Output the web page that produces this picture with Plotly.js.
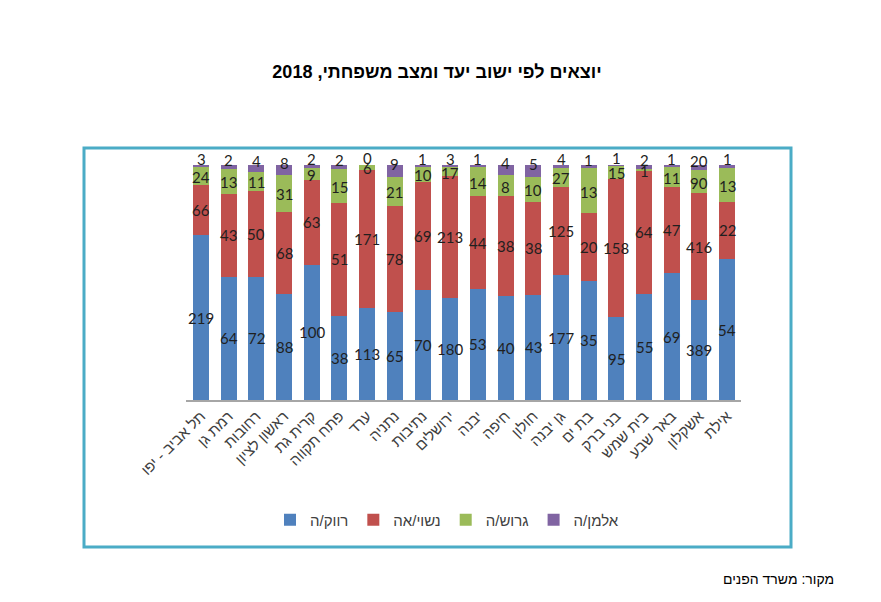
<!DOCTYPE html>
<html>
<head>
<meta charset="utf-8">
<script src="https://cdn.plot.ly/plotly-3.0.1.min.js"></script>
<style>
  html, body { margin: 0; padding: 0; background: #ffffff; }
  #chart { width: 881px; height: 602px; }
</style>
</head>
<body>
<div id="chart"></div>
<script>
// ---- data ----
const categories = ['תל אביב - יפו', 'רמת גן', 'רחובות', 'ראשון לציון', 'קרית גת', 'פתח תקווה', 'ערד', 'נתניה', 'נתיבות', 'ירושלים', 'יבנה', 'חיפה', 'חולון', 'גן יבנה', 'בת ים', 'בני ברק', 'בית שמש', 'באר שבע', 'אשקלון', 'אילת'];
const single   = [219, 64, 72, 88, 100, 38, 113, 65, 70, 180, 53, 40, 43, 177, 35, 95, 55, 69, 389, 54];
const married  = [66, 43, 50, 68, 63, 51, 171, 78, 69, 213, 44, 38, 38, 125, 20, 158, 64, 47, 416, 22];
const divorced = [24, 13, 11, 31, 9, 15, 6, 21, 10, 17, 14, 8, 10, 27, 13, 15, 1, 11, 90, 13];
const widowed  = [3, 2, 4, 8, 2, 2, 0, 9, 1, 3, 1, 4, 5, 4, 1, 1, 2, 1, 20, 1];
const seriesNames = ['רווק/ה', 'נשוי/אה', 'גרוש/ה', 'אלמן/ה'];
const titleText = 'יוצאים לפי ישוב יעד ומצב משפחתי, 2018';
const sourceText = 'מקור: משרד הפנים';

// ---- styling ----
const seriesValues = [single, married, divorced, widowed];
const colors = ['#4F81BD', '#C0504D', '#9BBB59', '#8064A2'];
const labelShift = [0, 0, -1, 7];
const numFont = 'Lato, Carlito, "Liberation Sans", sans-serif';
const hebFont = '"Liberation Sans", Arial, "DejaVu Sans", sans-serif';

const traces = seriesValues.map((vals, s) => ({
  type: 'bar',
  name: seriesNames[s],
  x: categories,
  y: vals,
  marker: { color: colors[s], line: { width: 0 } },
  hoverinfo: 'skip'
}));

// data labels centred on each stacked (percent-normalised) segment
const annotations = [];
categories.forEach((c, i) => {
  const total = seriesValues.reduce((a, arr) => a + arr[i], 0);
  let cum = 0;
  seriesValues.forEach((arr, s) => {
    const v = arr[i];
    annotations.push({
      x: c, y: (cum + v / 2) / total * 100,
      xref: 'x', yref: 'y', yshift: labelShift[s],
      text: String(v), showarrow: false,
      font: { family: numFont, size: 15, color: '#1f1f1f' },
      xanchor: 'center', yanchor: 'middle'
    });
    cum += v;
  });
});

const W = 881, H = 602;
const L = 186, R = 741, T = 165, B = 400;
const pw = R - L, ph = B - T;
const px = (p) => (p - L) / pw;
const py = (p) => (B - p) / ph;

annotations.push({
  xref: 'paper', yref: 'paper',
  x: px(836), y: py(579), xanchor: 'right', yanchor: 'middle',
  text: sourceText, showarrow: false,
  font: { family: hebFont, size: 14, color: '#000000' }
});

const layout = {
  width: W, height: H,
  margin: { l: L, r: W - R, t: T, b: H - B, pad: 0 },
  paper_bgcolor: '#ffffff', plot_bgcolor: '#ffffff',
  title: {
    text: '<b>' + titleText + '</b>',
    x: 437 / W, xref: 'container', xanchor: 'center',
    y: 1 - 72 / H, yref: 'container', yanchor: 'middle',
    font: { family: hebFont, size: 18, color: '#000000' }
  },
  barmode: 'stack',
  barnorm: 'percent',
  bargap: 0.42,
  xaxis: {
    type: 'category',
    showline: true, linecolor: '#a6a6a6', linewidth: 1.5,
    ticks: '', tickangle: -45,
    tickfont: { family: hebFont, size: 15, color: '#404040' },
    showgrid: false, zeroline: false, fixedrange: true
  },
  yaxis: {
    range: [0, 100], visible: false, showgrid: false, zeroline: false, fixedrange: true
  },
  showlegend: true,
  legend: {
    orientation: 'h',
    x: px(270), xanchor: 'left',
    y: py(520), yanchor: 'middle',
    font: { family: hebFont, size: 15, color: '#404040' },
    traceorder: 'normal',
    itemwidth: 30
  },
  shapes: [{
    type: 'rect', xref: 'paper', yref: 'paper',
    x0: px(84), x1: px(791), y0: py(547), y1: py(148),
    line: { color: '#4BACC6', width: 3 },
    fillcolor: 'rgba(0,0,0,0)', layer: 'below'
  }],
  annotations: annotations
};

Plotly.newPlot('chart', traces, layout, { displayModeBar: false, staticPlot: true });
</script>
</body>
</html>
